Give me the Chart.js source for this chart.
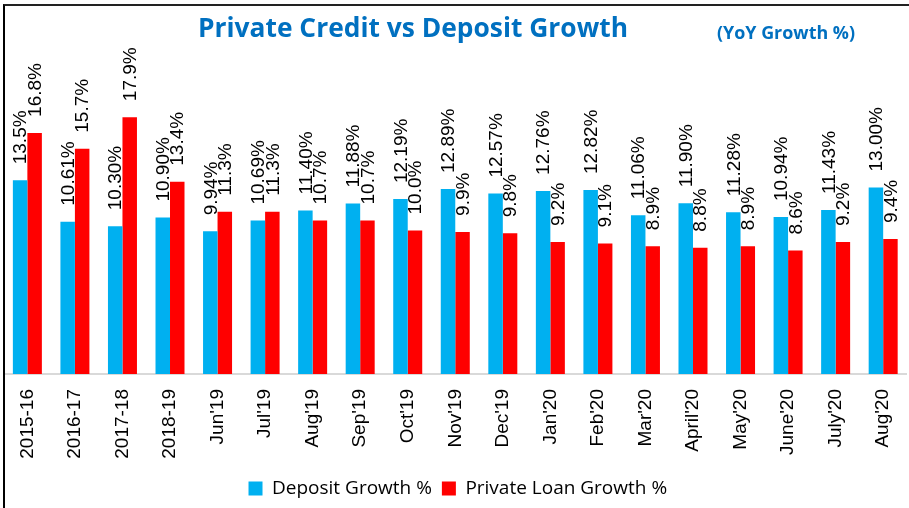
<!DOCTYPE html>
<html>
<head>
<meta charset="utf-8">
<script src="https://cdn.jsdelivr.net/npm/chart.js@4.4.1/dist/chart.umd.min.js"></script>
<style>
  html, body { margin: 0; padding: 0; background: #fff; overflow: hidden; }
  #wrap { position: relative; width: 913px; height: 508px; }
  #frame { position: absolute; left: 3px; top: 4px; right: 0; bottom: -10px;
           border-left: 2px solid #000; border-top: 2px solid #222; pointer-events: none; }
</style>
</head>
<body>
<div id="wrap">
  <canvas id="chart"></canvas>
  <div id="frame"></div>
</div>
<script>
const categories = ["2015-16", "2016-17", "2017-18", "2018-19", "Jun'19", "Jul'19", "Aug'19", "Sep'19",
  "Oct'19", "Nov'19", "Dec'19", "Jan'20", "Feb'20", "Mar'20", "April'20", "May'20", "June'20", "July'20", "Aug'20"];

const depositGrowth = [13.5, 10.61, 10.30, 10.90, 9.94, 10.69, 11.40, 11.88, 12.19, 12.89,
  12.57, 12.76, 12.82, 11.06, 11.90, 11.28, 10.94, 11.43, 13.00];
const depositLabels = ["13.5%", "10.61%", "10.30%", "10.90%", "9.94%", "10.69%", "11.40%", "11.88%", "12.19%", "12.89%",
  "12.57%", "12.76%", "12.82%", "11.06%", "11.90%", "11.28%", "10.94%", "11.43%", "13.00%"];

const loanGrowth = [16.8, 15.7, 17.9, 13.4, 11.3, 11.3, 10.7, 10.7, 10.0, 9.9,
  9.8, 9.2, 9.1, 8.9, 8.8, 8.9, 8.6, 9.2, 9.4];
const loanLabels = loanGrowth.map(v => v.toFixed(1) + "%");

// rotated value labels above each bar
const barLabels = {
  id: "barLabels",
  afterDatasetsDraw(chart) {
    const ctx = chart.ctx;
    const texts = [depositLabels, loanLabels];
    ctx.save();
    ctx.font = "19px 'Liberation Sans', Arial, sans-serif";
    ctx.fillStyle = "#000";
    ctx.textAlign = "left";
    ctx.textBaseline = "middle";
    chart.data.datasets.forEach((ds, di) => {
      chart.getDatasetMeta(di).data.forEach((bar, i) => {
        ctx.save();
        ctx.translate(bar.x + 1, bar.y - 16);
        ctx.rotate(-Math.PI / 2);
        ctx.fillText(texts[di][i], 0, 0);
        ctx.restore();
      });
    });
    ctx.restore();
  }
};

// title + unit note, title squeezed a bit to mimic Calibri
const titles = {
  id: "titles",
  afterDraw(chart) {
    const ctx = chart.ctx;
    ctx.save();
    ctx.fillStyle = "#0070C0";
    ctx.textBaseline = "middle";
    ctx.textAlign = "left";
    ctx.font = "bold 26px 'Open Sans', sans-serif";
    const t = "Private Credit vs Deposit Growth";
    const w = ctx.measureText(t).width;
    ctx.translate(198, 30);
    ctx.scale(430 / w, 1);
    ctx.fillText(t, 0, 0);
    ctx.restore();

    ctx.save();
    ctx.fillStyle = "#0070C0";
    ctx.textBaseline = "middle";
    ctx.font = "bold 17px 'Open Sans', sans-serif";
    const s = "(YoY Growth %)";
    const sw = ctx.measureText(s).width;
    ctx.translate(717, 34);
    ctx.scale(138 / sw, 1);
    ctx.fillText(s, 0, 0);
    ctx.restore();
  }
};

new Chart(document.getElementById("chart"), {
  type: "bar",
  data: {
    labels: categories,
    datasets: [
      { label: "Deposit Growth %", data: depositGrowth, backgroundColor: "#00B0F0" },
      { label: "Private Loan Growth %", data: loanGrowth, backgroundColor: "#FF0000" }
    ]
  },
  options: {
    responsive: true,
    maintainAspectRatio: false,
    animation: false,
    datasets: { bar: { categoryPercentage: 0.61, barPercentage: 1 } },
    layout: { padding: { left: 3.6, right: 1, top: 87, bottom: 0 } },
    plugins: {
      title: { display: false },
      tooltip: { enabled: false },
      legend: {
        position: "bottom",
        labels: {
          boxWidth: 14, boxHeight: 14, padding: 10,
          color: "#000",
          font: { family: "'Open Sans', sans-serif", size: 19 }
        }
      }
    },
    scales: {
      x: {
        grid: { display: false },
        border: { display: true, color: "#D9D9D9", width: 2 },
        ticks: {
          color: "#000", minRotation: 90, maxRotation: 90, padding: 7, autoSkip: false,
          font: { family: "'Liberation Sans', Arial, sans-serif", size: 19 }
        },
        afterFit(scale) { scale.height = 95; }
      },
      y: { display: false, min: 0, max: 20 }
    }
  },
  plugins: [barLabels, titles]
});
</script>
</body>
</html>
